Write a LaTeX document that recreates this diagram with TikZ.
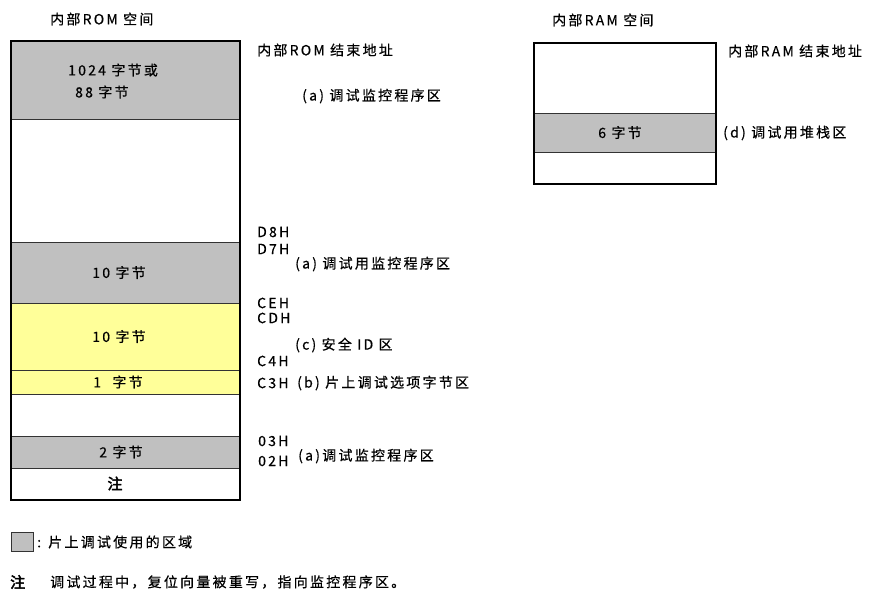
\documentclass[tikz,border=0pt]{standalone}
\usepackage{fontspec}
\setmainfont{Noto Sans CJK SC}[LetterSpace=16,FakeBold=0.5]
\newfontfamily\boldzh{Noto Sans CJK SC}[LetterSpace=16,FakeBold=3]
\definecolor{dbg}{RGB}{192,192,192}
\definecolor{ylw}{RGB}{255,255,153}
\begin{document}
\begin{tikzpicture}[x=1pt,y=-1pt,
  sec/.style={draw=black!80, line width=1.2pt, inner sep=0pt, anchor=north west},
  romsec/.style={sec, minimum width=229pt},
  ramsec/.style={sec, minimum width=182pt},
  outer/.style={draw=black, line width=2.4pt, inner sep=0pt, anchor=north west},
  txt/.style={inner sep=0pt, font=\fontsize{14}{22}\selectfont},
  lbl/.style={txt, anchor=west}]
\useasboundingbox (0,0) rectangle (878,598);
% ROM
\node[romsec, fill=dbg, minimum height=79pt] (s1) at (10,40) {};
\node[romsec, fill=white, minimum height=123pt] (s2) at (10,119) {};
\node[romsec, fill=dbg, minimum height=61pt] (s3) at (10,242) {};
\node[romsec, fill=ylw, minimum height=67pt] (s4) at (10,303) {};
\node[romsec, fill=ylw, minimum height=24pt] (s5) at (10,370) {};
\node[romsec, fill=white, minimum height=42pt] (s6) at (10,394) {};
\node[romsec, fill=dbg, minimum height=32pt] (s7) at (10,436) {};
\node[romsec, fill=white, minimum height=31pt] (s8) at (10,468) {};
\node[outer, minimum width=229pt, minimum height=459pt] (rom) at (10,40) {};
% ROM texts
\node[lbl, align=left] (t1) at (68,81) {1024 字节或\\\hspace{7pt}88 字节};
\node[txt] (t3) at (119,272.5) {10 字节};
\node[txt] (t4) at (119,336.5) {10 字节};
\node[txt] (t5) at (118,382) {1\hspace{6pt} 字节};
\node[txt] (t7) at (121,452) {2 字节};
\node[txt, font=\fontsize{15}{16}\boldzh] (t8) at (115,483.5) {注};
\node[lbl] (romtitle) at (50,19) {内部ROM 空间};
% ROM labels
\node[lbl] (l0) at (257,50) {内部ROM 结束地址};
\node[lbl] (l1) at (302,96) {(a) 调试监控程序区};
\node[lbl] (d8) at (257,232) {D8H};
\node[lbl] (d7) at (257,249) {D7H};
\node[lbl] (l2) at (295,264) {(a) 调试用监控程序区};
\node[lbl] (ce) at (257,303) {CEH};
\node[lbl] (cd) at (257,318) {CDH};
\node[lbl] (l3) at (295,345) {(c) 安全 ID 区};
\node[lbl] (c4) at (257,361) {C4H};
\node[lbl] (c3) at (257,383) {C3H};
\node[lbl] (l4) at (297,383) {(b) 片上调试选项字节区};
\node[lbl] (a03) at (258,441) {03H};
\node[lbl] (a02) at (258,461) {02H};
\node[lbl] (l5) at (298,456) {(a)调试监控程序区};
% RAM
\node[ramsec, fill=white, minimum height=71pt] (r1) at (533,42) {};
\node[ramsec, fill=dbg, minimum height=39pt] (r2) at (533,113) {};
\node[ramsec, fill=white, minimum height=31pt] (r3) at (533,152) {};
\node[outer, minimum width=182pt, minimum height=141pt] (ram) at (533,42) {};
\node[txt] (r2t) at (620,132.5) {6 字节};
\node[lbl] (ramtitle) at (552,20) {内部RAM 空间};
\node[lbl] (m0) at (728,51) {内部RAM 结束地址};
\node[lbl] (m1) at (723,133) {(d) 调试用堆栈区};
% legend
\node[draw=black!80, line width=1.2pt, fill=dbg, minimum width=22pt, minimum height=19pt, inner sep=0pt, anchor=north west] (leg) at (11,532) {};
\node[lbl] (legt) at (37,542) {: 片上调试使用的区域};
\node[lbl, font=\fontsize{15}{16}\boldzh] (note) at (10,582) {注};
\node[lbl] (notet) at (50,582) {调试过程中，复位向量被重写，指向监控程序区。};
\end{tikzpicture}
\end{document}
